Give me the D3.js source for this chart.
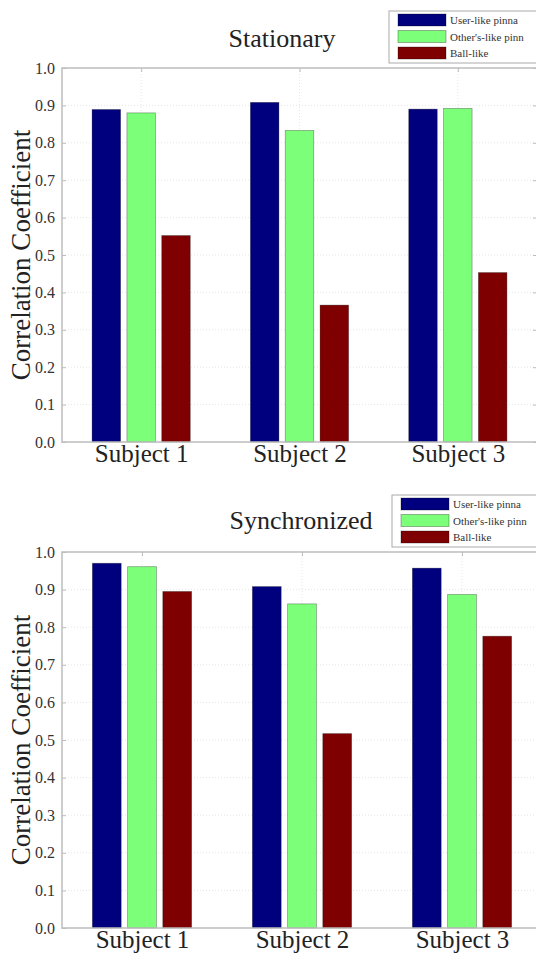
<!DOCTYPE html>
<html>
<head>
<meta charset="utf-8">
<script src="https://cdn.jsdelivr.net/npm/d3@7"></script>
<style>
  body { margin: 0; background: #fff; }
  svg text { font-family: 'Liberation Serif', 'Times New Roman', Times, serif !important; }
</style>
</head>
<body>
<div id="chart"></div>
<script>
// categories and series names
const subjects = ['Subject 1', 'Subject 2', 'Subject 3']
const seriesNames = ['User-like pinna', "Other's-like pinn", 'Ball-like']
const colors = ['#00007f', '#7cff79', '#7f0000']
const yTicks = [0, 0.1, 0.2, 0.3, 0.4, 0.5, 0.6, 0.7, 0.8, 0.9, 1.0]

// stationary values
const stationaryUser = [0.889, 0.908, 0.890]
const stationaryOther = [0.880, 0.833, 0.892]
const stationaryBall = [0.552, 0.366, 0.453]

// synchronized values
const syncUser = [0.970, 0.908, 0.957]
const syncOther = [0.961, 0.862, 0.887]
const syncBall = [0.895, 0.517, 0.776]

const serif = "'Liberation Serif', 'Times New Roman', serif"

const svg = d3.select('#chart')
  .append('svg')
  .attr('width', 536)
  .attr('height', 953)

function drawPanel(opts) {
  const { title, titleX, titleY, values, left, right, top, bottom, legendX, legendY } = opts
  const g = svg.append('g')

  const x = d3.scaleLinear().domain([0.5, 3.5]).range([left, right])
  const y = d3.scaleLinear().domain([0, 1]).range([bottom, top])

  // grid lines, very faint
  g.selectAll('.hgrid')
    .data(yTicks.slice(1, -1))
    .enter()
    .append('line')
    .attr('x1', left).attr('x2', right)
    .attr('y1', d => y(d)).attr('y2', d => y(d))
    .attr('stroke', '#e6e6e6')
    .attr('stroke-dasharray', '1,2')
  g.selectAll('.vgrid')
    .data(subjects)
    .enter()
    .append('line')
    .attr('x1', (d, i) => x(i + 1)).attr('x2', (d, i) => x(i + 1))
    .attr('y1', top).attr('y2', bottom)
    .attr('stroke', '#e6e6e6')
    .attr('stroke-dasharray', '1,2')

  // bars, one group per series
  const offsets = [-0.22, 0, 0.22]
  const bw = 0.18
  values.forEach((vals, s) => {
    g.selectAll('.bar-' + s)
      .data(vals)
      .enter()
      .append('rect')
      .attr('x', (d, i) => x(i + 1 + offsets[s] - bw / 2))
      .attr('width', x(bw) - x(0))
      .attr('y', d => y(d))
      .attr('height', d => y(0) - y(d))
      .attr('fill', colors[s])
      .attr('stroke', 'rgba(0,0,0,0.35)')
      .attr('stroke-width', 0.8)
  })

  // frame
  g.append('rect')
    .attr('x', left).attr('y', top)
    .attr('width', right - left).attr('height', bottom - top)
    .attr('fill', 'none')
    .attr('stroke', '#bdbdbd')
    .attr('stroke-width', 1.5)

  // y axis with inward ticks
  const yAxis = d3.axisLeft(y)
    .tickValues(yTicks)
    .tickFormat(d3.format('.1f'))
    .tickSize(-4)
    .tickPadding(7)
  const ya = g.append('g')
    .attr('transform', 'translate(' + left + ',0)')
    .call(yAxis)
    .attr('font-family', serif)
  ya.select('.domain').remove()
  ya.selectAll('line').attr('stroke', '#bdbdbd')
  ya.selectAll('text')
    .attr('fill', '#333')
    .style('font-size', '16px')

  // right-side ticks
  const yr = g.append('g')
    .attr('transform', 'translate(' + right + ',0)')
    .call(d3.axisRight(y).tickValues(yTicks).tickSize(-4).tickFormat(''))
  yr.select('.domain').remove()
  yr.selectAll('line').attr('stroke', '#bdbdbd')

  // x axis labels
  const xAxis = d3.axisBottom(x)
    .tickValues([1, 2, 3])
    .tickFormat((d, i) => subjects[i])
    .tickSize(0)
    .tickPadding(2)
  const xa = g.append('g')
    .attr('transform', 'translate(0,' + bottom + ')')
    .call(xAxis)
    .attr('font-family', serif)
  xa.select('.domain').remove()
  xa.selectAll('text')
    .attr('fill', '#222')
    .style('font-size', '25px')

  // top ticks at group centres
  const xt = g.append('g')
    .attr('transform', 'translate(0,' + top + ')')
    .call(d3.axisTop(x).tickValues([1, 2, 3]).tickSize(-4).tickFormat(''))
  xt.select('.domain').remove()
  xt.selectAll('line').attr('stroke', '#bdbdbd')

  // y label
  g.append('text')
    .attr('transform', 'translate(30,' + (top + bottom) / 2 + ') rotate(-90)')
    .attr('text-anchor', 'middle')
    .attr('fill', '#222')
    .attr('font-family', serif)
    .style('font-size', '27px')
    .text('Correlation Coefficient')

  // title
  g.append('text')
    .attr('x', titleX).attr('y', titleY)
    .attr('text-anchor', 'middle')
    .attr('fill', '#222')
    .attr('font-family', serif)
    .style('font-size', '26px')
    .text(title)

  // legend
  const lg = g.append('g').attr('transform', 'translate(' + legendX + ',' + legendY + ')')
  lg.append('rect')
    .attr('x', 0).attr('y', 0)
    .attr('width', 160).attr('height', 52)
    .attr('fill', '#fff')
    .attr('stroke', '#aaa')
  seriesNames.forEach((name, s) => {
    lg.append('rect')
      .attr('x', 9).attr('y', 3 + s * 16.5)
      .attr('width', 48).attr('height', 12)
      .attr('fill', colors[s])
      .attr('stroke', 'rgba(0,0,0,0.3)')
    lg.append('text')
      .attr('x', 61).attr('y', 13 + s * 16.5)
      .attr('fill', '#333')
      .attr('font-family', serif)
      .style('font-size', '11px')
      .text(name)
  })
}

drawPanel({
  title: 'Stationary', titleX: 282, titleY: 47,
  values: [stationaryUser, stationaryOther, stationaryBall],
  left: 62, right: 537, top: 68, bottom: 442,
  legendX: 389, legendY: 11
})

drawPanel({
  title: 'Synchronized', titleX: 301, titleY: 529,
  values: [syncUser, syncOther, syncBall],
  left: 62, right: 542, top: 552, bottom: 928,
  legendX: 392, legendY: 495
})
</script>
</body>
</html>
